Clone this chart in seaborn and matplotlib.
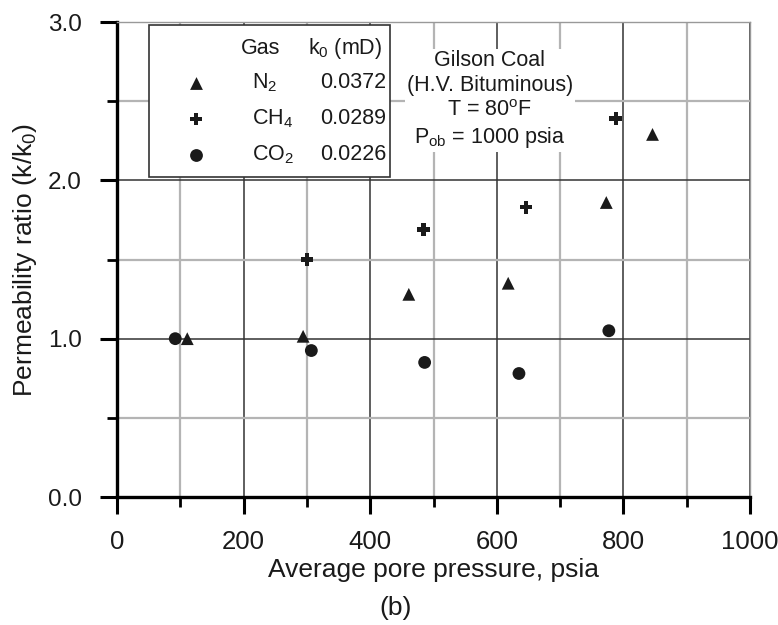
import numpy as np
import pandas as pd
import matplotlib
matplotlib.use("Agg")
import matplotlib.pyplot as plt
from matplotlib.patches import Rectangle
from matplotlib.ticker import MultipleLocator
import seaborn as sns

# =========================
# Data
# =========================
GASES = ["N2", "CH4", "CO2"]
GAS_LABELS = [r"N$_2$", r"CH$_4$", r"CO$_2$"]
K0_MD = ["0.0372", "0.0289", "0.0226"]

N2_P = [111, 294, 461, 618, 773, 846]
N2_RATIO = [1.00, 1.015, 1.28, 1.35, 1.86, 2.29]
CH4_P = [300, 484, 646, 788]
CH4_RATIO = [1.50, 1.69, 1.83, 2.39]
CO2_P = [92, 307, 486, 635, 777]
CO2_RATIO = [1.00, 0.925, 0.85, 0.78, 1.05]

MARKERS = {"N2": "^", "CH4": "P", "CO2": "o"}
INK = "#1a1a1a"
FONTS = ["Liberation Sans", "DejaVu Sans"]


def set_style():
    sns.set_style("white")
    plt.rcParams.update({
        "font.family": FONTS,
        "mathtext.default": "regular",
        "font.size": 17.5,
        "text.color": INK,
        "axes.labelcolor": INK,
        "xtick.color": INK,
        "ytick.color": INK,
        "xtick.direction": "out",
        "ytick.direction": "out",
        "xtick.bottom": True,
        "ytick.left": True,
    })


def main():
    set_style()

    df = pd.DataFrame({
        "pressure": N2_P + CH4_P + CO2_P,
        "ratio": N2_RATIO + CH4_RATIO + CO2_RATIO,
        "gas": ["N2"] * len(N2_P) + ["CH4"] * len(CH4_P) + ["CO2"] * len(CO2_P),
    })

    fig, ax = plt.subplots(figsize=(7.78, 6.25), dpi=100)
    fig.subplots_adjust(left=0.1504, right=0.964, top=0.9648, bottom=0.2048)

    sns.scatterplot(
        data=df, x="pressure", y="ratio", style="gas", hue="gas",
        markers=MARKERS, palette={g: INK for g in GASES},
        s=85, linewidth=0, legend=False, ax=ax, zorder=5,
    )

    ax.set_xlim(0, 1000)
    ax.set_ylim(0, 3.0)
    ax.xaxis.set_major_locator(MultipleLocator(200))
    ax.xaxis.set_minor_locator(MultipleLocator(100))
    ax.yaxis.set_major_locator(MultipleLocator(1.0))
    ax.yaxis.set_minor_locator(MultipleLocator(0.5))
    ax.yaxis.set_major_formatter(lambda v, pos: f"{v:.1f}")

    ax.set_axisbelow(True)
    ax.grid(which="major", color="#333333", linewidth=1.1)
    ax.grid(which="minor", color="#b4b4b4", linewidth=1.6)

    for side in ["left", "bottom"]:
        ax.spines[side].set_linewidth(2.4)
        ax.spines[side].set_color("black")
    for side in ["top", "right"]:
        ax.spines[side].set_linewidth(1.0)
        ax.spines[side].set_color("#999999")

    ax.tick_params(which="both", bottom=True, left=True, top=False, right=False)
    ax.tick_params(which="major", length=12.5, width=2.2, color="black")
    ax.tick_params(which="minor", length=7, width=2.0, color="black")
    ax.tick_params(axis="x", which="major", pad=11, labelsize=18.5)
    ax.tick_params(axis="y", which="major", pad=13, labelsize=17.5)

    ax.set_xlabel("Average pore pressure, psia", fontsize=19, labelpad=3)
    ax.set_ylabel(r"Permeability ratio (k/k$_0$)", fontsize=19, labelpad=6)
    fig.text(0.508, 0.027, "(b)", ha="center", va="center", fontsize=19)

    # ---- legend table (box drawn in axes fraction) ----
    ax.add_patch(Rectangle((0.0506, 0.674), 0.381, 0.3197, transform=ax.transAxes,
                           facecolor="white", edgecolor="#333333", linewidth=1.2,
                           zorder=6))
    fs = 15.5
    ax.text(0.226, 0.945, "Gas", transform=ax.transAxes, ha="center", va="center",
            fontsize=fs, zorder=7)
    ax.text(0.36, 0.945, r"k$_0$ (mD)", transform=ax.transAxes, ha="center",
            va="center", fontsize=fs, zorder=7)
    row_y = [0.8716, 0.7958, 0.72]
    for gas, label, k0, yy in zip(GASES, GAS_LABELS, K0_MD, row_y):
        ax.scatter([0.1248], [yy], transform=ax.transAxes, marker=MARKERS[gas],
                   s=85, color=INK, linewidth=0, zorder=7, clip_on=False)
        ax.text(0.213, yy, label, transform=ax.transAxes, ha="left", va="center",
                fontsize=fs, zorder=7)
        ax.text(0.425, yy, k0, transform=ax.transAxes, ha="right", va="center",
                fontsize=fs, zorder=7)

    ax.text(0.589, 0.836,
            "Gilson Coal\n(H.V. Bituminous)\nT = 80$^o$F\nP$_{ob}$ = 1000 psia",
            transform=ax.transAxes, ha="center", va="center", fontsize=fs,
            linespacing=1.25, zorder=7,
            bbox=dict(boxstyle="square,pad=0.1", facecolor="white", edgecolor="none"))

    fig.savefig("out.png", dpi=100)
    plt.close(fig)


if __name__ == "__main__":
    main()
